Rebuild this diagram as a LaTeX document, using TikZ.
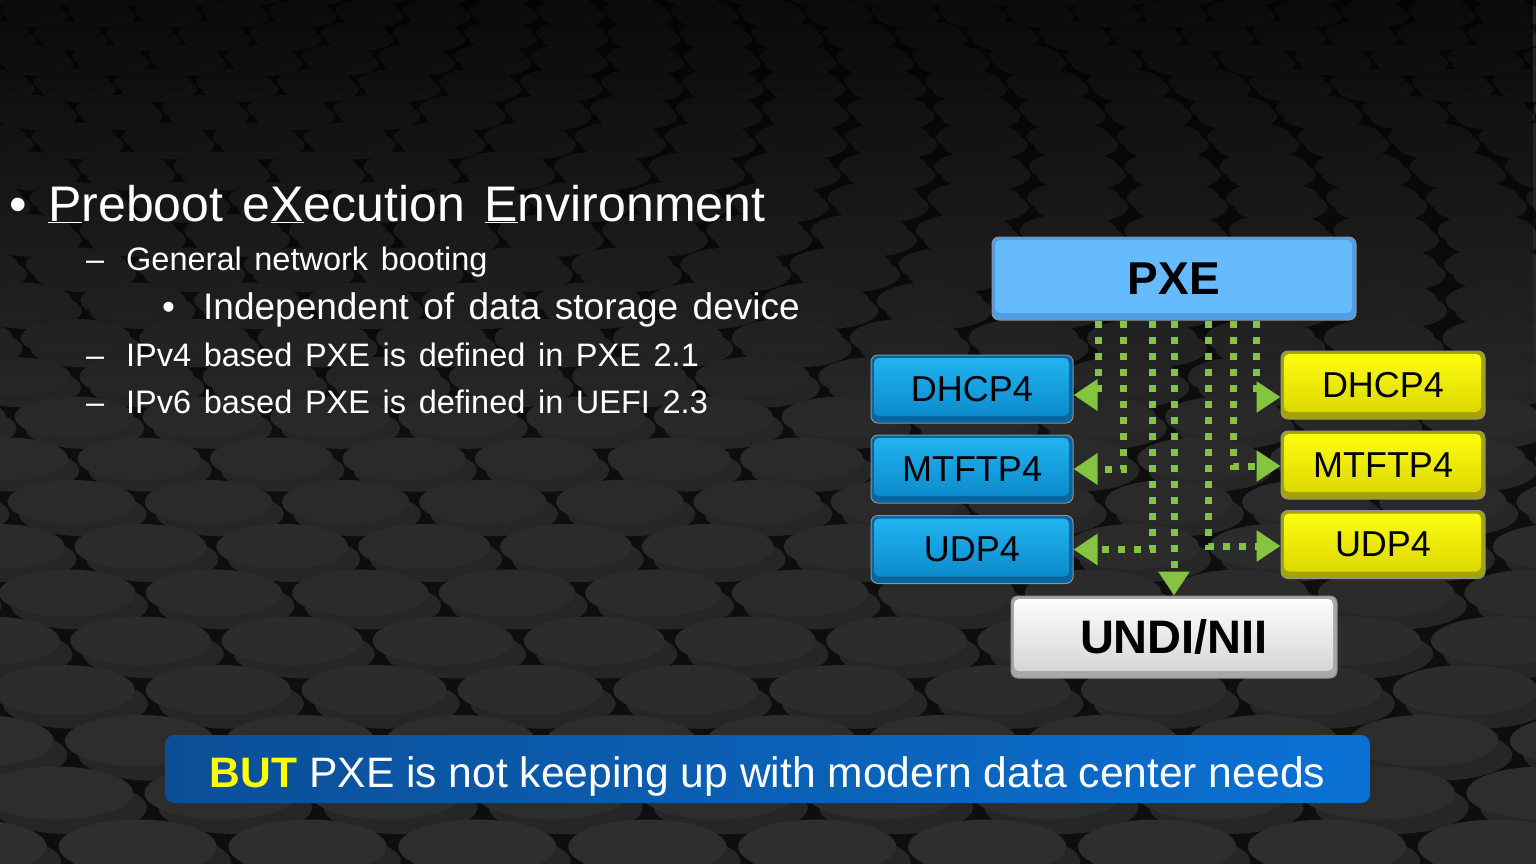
\documentclass[tikz,border=0pt]{standalone}
\usepackage{fontspec}
\setmainfont{Liberation Sans}[WordSpace=1.4]
\newfontfamily\plainsans{Liberation Sans}
\usetikzlibrary{arrows.meta,fadings}

\definecolor{bgdark}{HTML}{0E0E0E}
\definecolor{conncol}{HTML}{84C441}
\definecolor{pxefill}{HTML}{66BBFF}
\definecolor{pxerim}{HTML}{4E9FE6}
\definecolor{bluetop}{HTML}{22B5F2}
\definecolor{bluebot}{HTML}{0A86C8}
\definecolor{bluerim}{HTML}{08659E}
\definecolor{yeltop}{HTML}{FFFF10}
\definecolor{yelbot}{HTML}{D8D400}
\definecolor{yelrim}{HTML}{A6A200}
\definecolor{undibot}{HTML}{D2D2D2}
\definecolor{undirim}{HTML}{A8A8A8}
\definecolor{edgegray}{HTML}{8A949A}
\definecolor{bannerleft}{HTML}{0B4E96}
\definecolor{bannerright}{HTML}{0A71D4}
\definecolor{butyellow}{HTML}{FFFF00}

\tikzfading[name=topfade, top color=transparent!30, bottom color=transparent!100]

\tikzset{
  boxbase/.style={rounded corners=7pt, inner sep=0pt, text=black, draw=edgegray, line width=1pt},
  bevel/.style 2 args={path picture={
      \shade[rounded corners=5pt, top color=#1, bottom color=#2]
        ([shift={(3pt,-3pt)}]path picture bounding box.north west) rectangle
        ([shift={(-4pt,7pt)}]path picture bounding box.south east);}},
  pxebox/.style={boxbase, fill=pxerim, bevel={pxefill}{pxefill},
      minimum width=364pt, minimum height=83pt,
      font=\plainsans\fontsize{46}{46}\selectfont\bfseries},
  undibox/.style={boxbase, fill=undirim, bevel={white}{undibot},
      minimum width=326pt, minimum height=82pt,
      font=\plainsans\fontsize{47}{47}\selectfont\bfseries},
  protoleft/.style={boxbase, fill=bluerim, bevel={bluetop}{bluebot},
      minimum width=202pt, minimum height=68pt,
      font=\plainsans\fontsize{36}{36}\selectfont},
  protoright/.style={boxbase, fill=yelrim, bevel={yeltop}{yelbot},
      minimum width=204pt, minimum height=68pt,
      font=\plainsans\fontsize{36}{36}\selectfont},
  conn/.style={draw=conncol, line width=7pt, dash pattern=on 7pt off 9pt,
      -{Triangle[length=24pt,width=30pt]}},
  mainline/.style={anchor=base west, inner sep=0pt, text=white,
      font=\fontsize{50}{50}\selectfont},
  subline/.style={anchor=base west, inner sep=0pt, text=white,
      font=\fontsize{32.5}{33}\selectfont},
  subsubline/.style={anchor=base west, inner sep=0pt, text=white,
      font=\fontsize{37}{37}\selectfont},
  banner/.style={rounded corners=9pt, inner sep=0pt, left color=bannerleft,
      right color=bannerright, minimum width=1205pt, minimum height=68pt,
      text height=36pt, text depth=0pt,
      text=white, font=\plainsans\fontsize{42.6}{43}\selectfont},
}

\begin{document}
\begin{tikzpicture}[x=1pt,y=-1pt]
\useasboundingbox (0,0) rectangle (1536,864);

% textured floor of discs
\begin{scope}
  \clip (0,0) rectangle (1536,864);
  \fill[bgdark] (0,0) rectangle (1536,864);
  \foreach \r in {0,...,23}{
    \pgfmathsetmacro{\yy}{-10+20*\r+0.75*\r*\r}
    \pgfmathsetmacro{\dy}{20+1.5*\r}
    \pgfmathsetmacro{\ry}{0.5*\dy}
    \pgfmathsetmacro{\rx}{2.9*\ry}
    \pgfmathsetmacro{\dx}{2.15*\rx}
    \pgfmathsetmacro{\off}{mod(\r*0.47*\dx,\dx)}
    \pgfmathsetmacro{\g}{13+5*\r/23}
    \pgfmathtruncatemacro{\n}{1536/\dx+2}
    \foreach \c in {0,...,\n}{
      \pgfmathsetmacro{\xx}{\off-\dx+\c*\dx}
      \fill[black!85] (\xx+0.18*\rx,\yy+0.55*\ry) ellipse [x radius=\rx, y radius=\ry];
      \fill[white!\g!black] (\xx,\yy) ellipse [x radius=\rx, y radius=\ry];
    }
  }
  \fill[black, path fading=topfade] (0,0) rectangle (1536,420);
\end{scope}

% bullet list
\node[mainline] (b0) at (9,221) {•};
\node[mainline] (t0) at (48,221) {\underline{P}reboot e\underline{X}ecution \underline{E}nvironment};
\node[subline] (d1) at (86,270) {–};
\node[subline] (t1) at (126,270) {General network booting};
\node[subsubline] (b2) at (162,319) {•};
\node[subsubline] (t2) at (203,319) {Independent of data storage device};
\node[subline] (d3) at (86,366) {–};
\node[subline] (t3) at (126,366) {IPv4 based PXE is defined in PXE 2.1};
\node[subline] (d4) at (86,413) {–};
\node[subline] (t4) at (126,413) {IPv6 based PXE is defined in UEFI 2.3};

% protocol stack
\node[pxebox] (pxe) at (1174,278.5) {PXE};
\node[undibox] (undi) at (1174,637) {UNDI/NII};
\node[protoleft] (ldhcp) at (972,389) {DHCP4};
\node[protoleft] (lmtftp) at (972,469) {MTFTP4};
\node[protoleft] (ludp) at (972,549.5) {UDP4};
\node[protoright] (rdhcp) at (1383,385) {DHCP4};
\node[protoright] (rmtftp) at (1383,465) {MTFTP4};
\node[protoright] (rudp) at (1383,544.5) {UDP4};

% dotted connectors
\draw[conn] ([xshift=-76pt]pxe.south) |- ([yshift=-6pt]ldhcp.east);
\draw[conn] ([xshift=-51pt]pxe.south) |- (lmtftp.east);
\draw[conn] ([xshift=-22pt]pxe.south) |- (ludp.east);
\draw[conn] (pxe.south) -- (undi.north);
\draw[conn] ([xshift=34pt]pxe.south) |- ([yshift=-1.5pt]rudp.west);
\draw[conn] ([xshift=59pt]pxe.south) |- ([yshift=-1pt]rmtftp.west);
\draw[conn] ([xshift=82pt]pxe.south) |- ([yshift=-12pt]rdhcp.west);

% summary banner
\node[banner] (note) at (767.5,769) {{\bfseries\color{butyellow}BUT} PXE is not keeping up with modern data center needs};
\end{tikzpicture}
\end{document}
